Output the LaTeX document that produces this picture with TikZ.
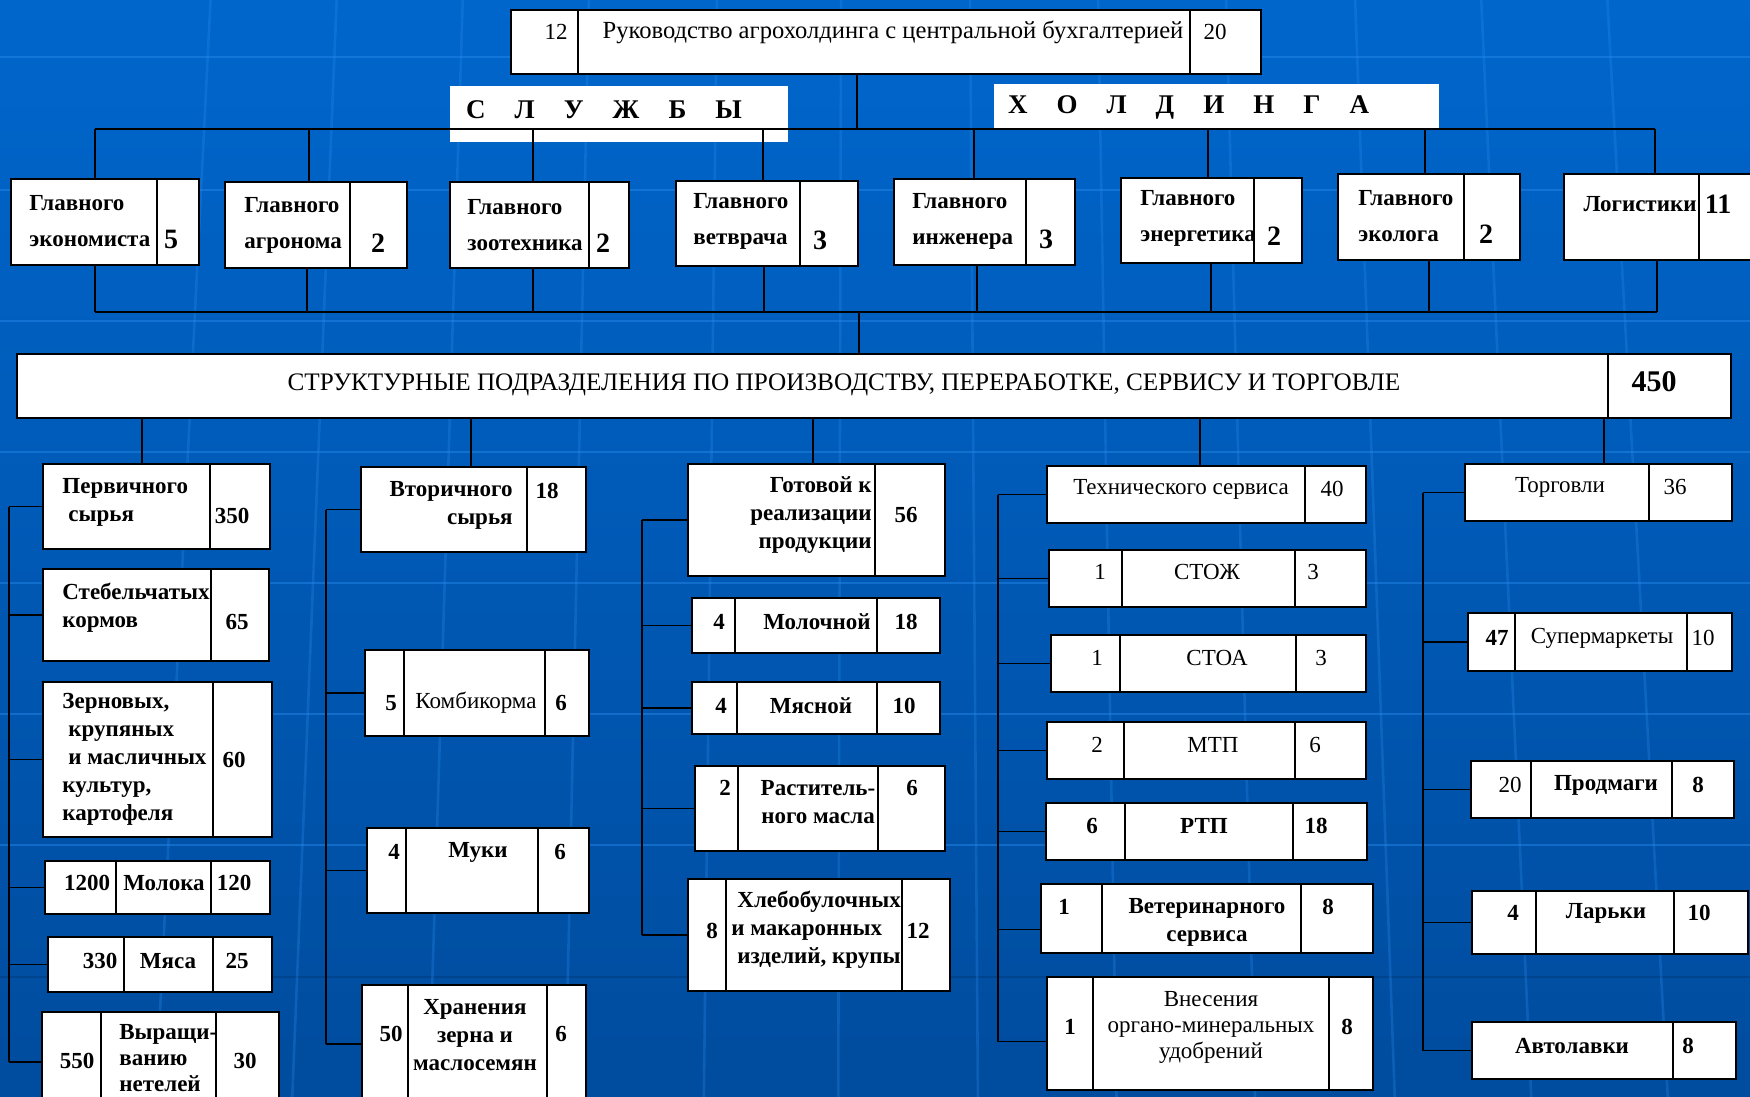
\documentclass[tikz,border=0pt]{standalone}
\usepackage{fontspec}
\setmainfont{Liberation Serif}
\usepackage{graphicx}
\definecolor{bgtop}{HTML}{0066CC}
\definecolor{bgbot}{HTML}{004C9E}
\definecolor{bgl}{HTML}{2A8AEA}
\definecolor{bgd}{HTML}{003E80}
\tikzset{
  cellst/.style={draw=black, fill=white, line width=0.9pt, inner sep=0pt, outer sep=0pt},
  band/.style={fill=white, draw=none, inner sep=0pt, outer sep=0pt},
  txt/.style={inner sep=0pt, font=\bfseries\fontsize{11.5}{14}\selectfont, align=center},
  reg/.style={font=\fontsize{11.5}{14}\selectfont},
  svc/.style={font=\bfseries\fontsize{11.5}{18}\selectfont, align=left, anchor=west},
  lt/.style={anchor=west, align=left},
  bnum/.style={font=\bfseries\fontsize{14}{16}\selectfont},
  letters/.style={inner sep=0pt, font=\bfseries\fontsize{13.5}{16}\selectfont},
  conn/.style={draw=black, line width=0.7pt},
  bgline/.style={draw=bgl, line width=1.3pt, opacity=0.45},
  bgdark/.style={draw=bgd, line width=1.3pt, opacity=0.6}
}
\newcommand\cellbox[9][]{%
  \pgfmathsetmacro\cw{(#5-#3)*0.5}%
  \pgfmathsetmacro\ch{(#6-#4)*0.5}%
  \node[cellst, minimum width=\cw pt, minimum height=\ch pt] (#2) at ({(#3+#5)/2},{(#4+#6)/2}) {};%
  \node[txt, #1] (#2t) at (#7,#8) {#9};%
}
\begin{document}
\begin{tikzpicture}[x=0.5pt,y=-0.5pt]
\useasboundingbox (0,0) rectangle (1750,1097);
\clip (0,0) rectangle (1750,1097);
\shade[top color=bgtop, bottom color=bgbot] (0,0) rectangle (1750,1097);
% background grid
\foreach \yy in {57,190,321,452,583,714,845}
  \draw[bgline] (0,\yy) -- (1750,\yy);
\draw[bgdark] (0,977) -- (1750,977);
\foreach \xx in {190,320,450,580,712,840,973,1105,1237,1370,1500,1630}
  \draw[bgline, opacity=0.3] ({\xx-0.03*(\xx-875)},0) -- ({\xx+0.05*(\xx-875)},1097);

% bands
\node[band, minimum width=169pt, minimum height=28pt] (slb) at (619,114) {};
\node[letters] (slbt) at (604,110) {\makebox[138pt]{С\hfill Л\hfill У\hfill Ж\hfill Б\hfill Ы}};
\node[band, minimum width=222.5pt, minimum height=22.5pt] (hlb) at (1216.5,106.5) {};
\node[letters] (hlbt) at (1188.5,107) {\makebox[180.5pt]{Х\hfill О\hfill Л\hfill Д\hfill И\hfill Н\hfill Г\hfill А}};

% top box
\cellbox[reg]{topa}{511}{10}{578}{74}{556}{32}{12}
\cellbox[reg,font=\fontsize{12.3}{14}\selectfont]{topb}{578}{10}{1190}{74}{893}{32}{Руководство агрохолдинга с центральной бухгалтерией}
\cellbox[reg]{topc}{1190}{10}{1261}{74}{1215}{32}{20}

% services
\cellbox[svc]{s1a}{11}{179}{157}{265}{29}{221}{Главного\\экономиста}
\cellbox[bnum]{s1b}{157}{179}{199}{265}{171}{239}{5}
\cellbox[svc]{s2a}{225}{182}{350}{268}{244}{225}{Главного\\агронома}
\cellbox[bnum]{s2b}{350}{182}{407}{268}{378}{243}{2}
\cellbox[svc]{s3a}{450}{182}{589}{268}{467}{225}{Главного\\зоотехника}
\cellbox[bnum]{s3b}{589}{182}{629}{268}{603}{243}{2}
\cellbox[svc]{s4a}{676}{181}{800}{266}{693}{221.5}{Главного\\ветврача}
\cellbox[bnum]{s4b}{800}{181}{858}{266}{820}{240}{3}
\cellbox[svc]{s5a}{894}{179}{1026}{265}{912}{221}{Главного\\инженера}
\cellbox[bnum]{s5b}{1026}{179}{1075}{265}{1046}{239}{3}
\cellbox[svc]{s6a}{1121}{178}{1254}{263}{1140}{218}{Главного\\энергетика}
\cellbox[bnum]{s6b}{1254}{178}{1302}{263}{1274}{236}{2}
\cellbox[svc]{s7a}{1338}{174}{1464}{260}{1358}{216}{Главного\\эколога}
\cellbox[bnum]{s7b}{1464}{174}{1520}{260}{1486}{234}{2}
\cellbox{s8a}{1564}{174}{1699}{260}{1640}{204}{Логистики}
\cellbox[bnum]{s8b}{1699}{174}{1760}{260}{1718}{204}{11}

% big box
\cellbox[reg,font=\fontsize{12.6}{14}\selectfont]{biga}{17}{354}{1608}{418}{844}{385}{СТРУКТУРНЫЕ ПОДРАЗДЕЛЕНИЯ ПО ПРОИЗВОДСТВУ, ПЕРЕРАБОТКЕ, СЕРВИСУ И ТОРГОВЛЕ}
\cellbox[font=\bfseries\fontsize{15}{16}\selectfont]{bigb}{1608}{354}{1731}{418}{1654}{382}{450}

% column 1
\cellbox[lt]{p1a}{43}{464}{210}{549}{62}{502}{Первичного\\\hspace*{3pt}сырья}
\cellbox{p1b}{210}{464}{270}{549}{232}{516}{350}
\cellbox[lt]{p2a}{43}{569}{211}{661}{62}{608}{Стебельчатых\\кормов}
\cellbox{p2b}{211}{569}{269}{661}{237}{622}{65}
\cellbox[lt]{p3a}{43}{682}{213}{837}{62}{759}{Зерновых,\\\hspace*{3pt}крупяных\\\hspace*{3pt}и масличных\\культур,\\картофеля}
\cellbox{p3b}{213}{682}{272}{837}{234}{760}{60}
\cellbox{p4a}{45}{861}{116}{914}{87}{883}{1200}
\cellbox{p4b}{116}{861}{211}{914}{164}{883}{Молока}
\cellbox{p4c}{211}{861}{270}{914}{234}{883}{120}
\cellbox{p5a}{48}{937}{124}{992}{100}{961}{330}
\cellbox{p5b}{124}{937}{213}{992}{168}{961}{Мяса}
\cellbox{p5c}{213}{937}{272}{992}{237}{961}{25}
\cellbox{p6a}{42}{1012}{101}{1112}{77}{1061}{550}
\cellbox[lt,font=\bfseries\fontsize{11.5}{13}\selectfont]{p6b}{101}{1012}{216}{1112}{119}{1058}{Выращи-\\ванию\\нетелей}
\cellbox{p6c}{216}{1012}{279}{1112}{245}{1061}{30}

% column 2
\cellbox[anchor=east,align=right]{q1a}{361}{467}{527}{552}{513}{505}{Вторичного\\сырья}
\cellbox{q1b}{527}{467}{586}{552}{547}{491}{18}
\cellbox{q2a}{365}{650}{404}{736}{391}{703}{5}
\cellbox[reg]{q2b}{404}{650}{545}{736}{476}{703}{Комбикорма}
\cellbox{q2c}{545}{650}{589}{736}{561}{703}{6}
\cellbox{q3a}{367}{828}{406}{913}{394}{852}{4}
\cellbox{q3b}{406}{828}{538}{913}{478}{852}{Муки}
\cellbox{q3c}{538}{828}{589}{913}{560}{852}{6}
\cellbox{q4a}{362}{985}{408}{1103}{391}{1034}{50}
\cellbox{q4b}{408}{985}{547}{1103}{475}{1035}{Хранения\\зерна и\\маслосемян}
\cellbox{q4c}{547}{985}{586}{1103}{561}{1034}{6}

% column 3
\cellbox[anchor=east,align=right]{r1a}{688}{464}{875}{576}{872}{515}{Готовой к\\реализации\\продукции}
\cellbox{r1b}{875}{464}{945}{576}{906}{515}{56}
\cellbox{r2a}{692}{598}{735}{653}{719}{622}{4}
\cellbox{r2b}{735}{598}{877}{653}{817}{622}{Молочной}
\cellbox{r2c}{877}{598}{940}{653}{906}{622}{18}
\cellbox{r3a}{692}{682}{737}{734}{721}{706}{4}
\cellbox{r3b}{737}{682}{877}{734}{811}{706}{Мясной}
\cellbox{r3c}{877}{682}{940}{734}{904}{706}{10}
\cellbox{r4a}{695}{766}{738}{851}{725}{788}{2}
\cellbox{r4b}{738}{766}{878}{851}{818}{802}{Раститель-\\ного масла}
\cellbox{r4c}{878}{766}{945}{851}{912}{788}{6}
\cellbox{r5a}{688}{879}{726}{991}{712}{931}{8}
\cellbox[lt]{r5b}{726}{879}{902}{991}{731}{930}{\hspace*{3pt}Хлебобулочных\\и макаронных\\\hspace*{3pt}изделий, крупы}
\cellbox{r5c}{902}{879}{950}{991}{918}{931}{12}

% column 4
\cellbox[reg]{t1a}{1047}{466}{1305}{523}{1181}{489}{Технического сервиса}
\cellbox[reg]{t1b}{1305}{466}{1366}{523}{1332}{489}{40}
\cellbox[reg]{t2a}{1049}{550}{1122}{607}{1100}{572}{1}
\cellbox[reg]{t2b}{1122}{550}{1295}{607}{1207}{572}{СТОЖ}
\cellbox[reg]{t2c}{1295}{550}{1366}{607}{1313}{572}{3}
\cellbox[reg]{t3a}{1051}{635}{1120}{692}{1097}{658}{1}
\cellbox[reg]{t3b}{1120}{635}{1296}{692}{1217}{658}{СТОА}
\cellbox[reg]{t3c}{1296}{635}{1366}{692}{1321}{658}{3}
\cellbox[reg]{t4a}{1047}{722}{1124}{779}{1097}{745}{2}
\cellbox[reg]{t4b}{1124}{722}{1295}{779}{1213}{745}{МТП}
\cellbox[reg]{t4c}{1295}{722}{1366}{779}{1315}{745}{6}
\cellbox{t5a}{1046}{803}{1125}{860}{1092}{826}{6}
\cellbox{t5b}{1125}{803}{1293}{860}{1204}{826}{РТП}
\cellbox{t5c}{1293}{803}{1367}{860}{1316}{826}{18}
\cellbox{t6a}{1041}{884}{1102}{953}{1064}{907}{1}
\cellbox{t6b}{1102}{884}{1301}{953}{1207}{922}{Ветеринарного\\сервиса}
\cellbox{t6c}{1301}{884}{1373}{953}{1328}{907}{8}
\cellbox{t7a}{1047}{977}{1093}{1090}{1070}{1027}{1}
\cellbox[font=\fontsize{11.5}{13}\selectfont]{t7b}{1093}{977}{1329}{1090}{1211}{1027}{Внесения\\органо-минеральных\\удобрений}
\cellbox{t7c}{1329}{977}{1373}{1090}{1347}{1027}{8}

% column 5
\cellbox[reg]{u1a}{1465}{464}{1649}{521}{1560}{487}{Торговли}
\cellbox[reg]{u1b}{1649}{464}{1732}{521}{1675}{487}{36}
\cellbox{u2a}{1468}{613}{1515}{671}{1497}{638}{47}
\cellbox[reg]{u2b}{1515}{613}{1687}{671}{1602}{638}{Супермаркеты}
\cellbox[reg]{u2c}{1687}{613}{1732}{671}{1703}{638}{10}
\cellbox[reg]{u3a}{1471}{761}{1531}{818}{1510}{785}{20}
\cellbox{u3b}{1531}{761}{1672}{818}{1606}{785}{Продмаги}
\cellbox{u3c}{1672}{761}{1734}{818}{1698}{785}{8}
\cellbox{u4a}{1472}{891}{1536}{954}{1513}{913}{4}
\cellbox{u4b}{1536}{891}{1674}{954}{1606}{913}{Ларьки}
\cellbox{u4c}{1674}{891}{1748}{954}{1699}{913}{10}
\cellbox{u5a}{1472}{1022}{1673}{1079}{1572}{1046}{Автолавки}
\cellbox{u5b}{1673}{1022}{1736}{1079}{1688}{1046}{8}

% ---- connectors ----
% top tree
\coordinate (ja) at (857,129);
\draw[conn] (topb.south -| ja) -- (ja);
\coordinate (j1) at (95,129);
\coordinate (j2) at (309,129);
\coordinate (j3) at (533,129);
\coordinate (j4) at (763,129);
\coordinate (j5) at (974,129);
\coordinate (j6) at (1208,129);
\coordinate (j7) at (1425,129);
\coordinate (j8) at (1655,129);
\draw[conn] (j1) -- (j8);
\foreach \i in {1,...,8} \draw[conn] (j\i) -- (j\i |- s\i a.north);
% bottom bus
\coordinate (k1) at (95,312);
\coordinate (k2) at (307,312);
\coordinate (k3) at (533,312);
\coordinate (k4) at (764,312);
\coordinate (k5) at (977,312);
\coordinate (k6) at (1211,312);
\coordinate (k7) at (1429,312);
\coordinate (k8) at (1657,312);
\draw[conn] (k1) -- (k8);
\foreach \i in {1,...,8} \draw[conn] (s\i a.south -| k\i) -- (k\i);
\coordinate (km) at (859,312);
\draw[conn] (km) -- (km |- biga.north);
% drops from big box
\coordinate (m1) at (142,0);
\coordinate (m2) at (471,0);
\coordinate (m3) at (813,0);
\coordinate (m4) at (1200,0);
\coordinate (m5) at (1604,0);
\draw[conn] (biga.south -| m1) -- (m1 |- p1a.north);
\draw[conn] (biga.south -| m2) -- (m2 |- q1a.north);
\draw[conn] (biga.south -| m3) -- (m3 |- r1a.north);
\draw[conn] (biga.south -| m4) -- (m4 |- t1a.north);
\draw[conn] (biga.south -| m5) -- (m5 |- u1a.north);
% column brackets
\coordinate (v1) at (9,0);
\draw[conn] (v1 |- p1a.west) -- (v1 |- p6a.west);
\foreach \b in {p1a,p2a,p3a,p4a,p5a,p6a} \draw[conn] (v1 |- \b.west) -- (\b.west);
\coordinate (v2) at (326,0);
\draw[conn] (v2 |- q1a.west) -- (v2 |- q4a.west);
\foreach \b in {q1a,q2a,q3a,q4a} \draw[conn] (v2 |- \b.west) -- (\b.west);
\coordinate (v3) at (642,0);
\draw[conn] (v3 |- r1a.west) -- (v3 |- r5a.west);
\foreach \b in {r1a,r2a,r3a,r4a,r5a} \draw[conn] (v3 |- \b.west) -- (\b.west);
\coordinate (v4) at (998,0);
\coordinate (t6w) at ([yshift=-5.5pt]t6a.west);
\coordinate (t7w) at ([yshift=-4pt]t7a.west);
\draw[conn] (v4 |- t1a.west) -- (v4 |- t7w);
\foreach \b in {t1a,t2a,t3a,t4a,t5a} \draw[conn] (v4 |- \b.west) -- (\b.west);
\draw[conn] (v4 |- t6w) -- (t6w);
\draw[conn] (v4 |- t7w) -- (t7w);
\coordinate (v5) at (1423,0);
\draw[conn] (v5 |- u1a.west) -- (v5 |- u5a.west);
\foreach \b in {u1a,u2a,u3a,u4a,u5a} \draw[conn] (v5 |- \b.west) -- (\b.west);
\end{tikzpicture}
\end{document}
